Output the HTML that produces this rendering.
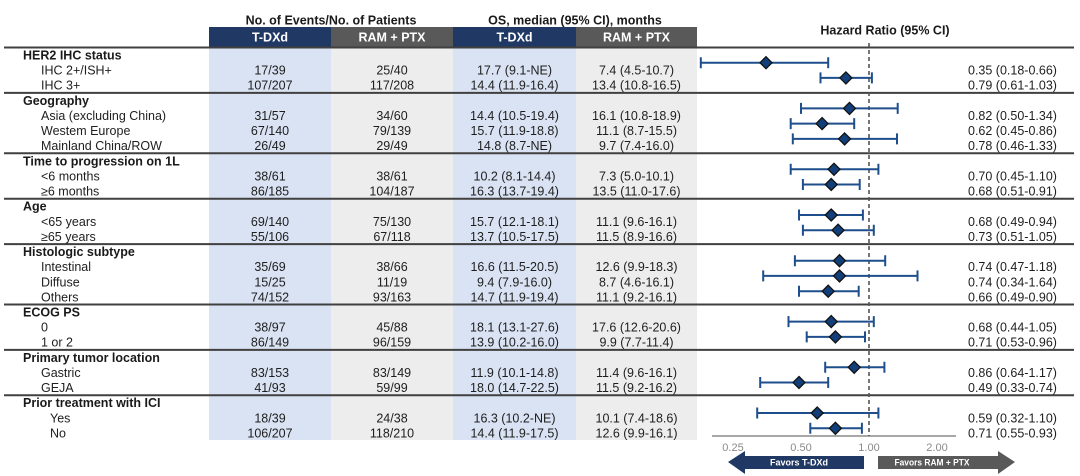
<!DOCTYPE html>
<html><head><meta charset="utf-8"><style>
html,body{margin:0;padding:0;background:#fff;}
svg{display:block;}
text{font-family:"Liberation Sans",Arial,sans-serif;}
.t{font-size:12.5px;fill:#1e1e1e;}
.b{font-size:12.5px;font-weight:bold;fill:#1a1a1a;}
.c{text-anchor:middle;}
.h{font-size:12.5px;font-weight:bold;fill:#fff;text-anchor:middle;}
.ax{font-size:11px;fill:#8a8a8a;text-anchor:middle;}
.ci{stroke:#1f4e8c;stroke-width:2;fill:none;}
.dm{fill:#123f7a;stroke:#111;stroke-width:1.3;}
.ln{stroke:#404040;stroke-width:2;}
</style></head><body>
<svg width="1080" height="476" viewBox="0 0 1080 476" xmlns="http://www.w3.org/2000/svg">
<rect x="209" y="47" width="122" height="393" fill="#dae3f3"/>
<rect x="331" y="47" width="122" height="393" fill="#ededed"/>
<rect x="453" y="47" width="123" height="393" fill="#dae3f3"/>
<rect x="576" y="47" width="121" height="393" fill="#ededed"/>
<rect x="209" y="27" width="122" height="20" fill="#1f3864"/>
<rect x="331" y="27" width="122" height="20" fill="#595959"/>
<rect x="453" y="27" width="123" height="20" fill="#1f3864"/>
<rect x="576" y="27" width="121" height="20" fill="#595959"/>
<text class="b c" x="331" y="24.5">No. of Events/No. of Patients</text>
<text class="b c" x="575" y="24.5">OS, median (95% CI), months</text>
<text class="b c" x="885" y="34.5">Hazard Ratio (95% CI)</text>
<text class="h" x="270" y="41.5">T-DXd</text>
<text class="h" x="392" y="41.5">RAM + PTX</text>
<text class="h" x="514.5" y="41.5">T-DXd</text>
<text class="h" x="636.5" y="41.5">RAM + PTX</text>
<line class="ln" x1="4" x2="1074" y1="47.5" y2="47.5"/>
<line class="ln" x1="4" x2="1074" y1="92.9" y2="92.9"/>
<line class="ln" x1="4" x2="1074" y1="153.3" y2="153.3"/>
<line class="ln" x1="4" x2="1074" y1="198.7" y2="198.7"/>
<line class="ln" x1="4" x2="1074" y1="244.1" y2="244.1"/>
<line class="ln" x1="4" x2="1074" y1="304.5" y2="304.5"/>
<line class="ln" x1="4" x2="1074" y1="349.9" y2="349.9"/>
<line class="ln" x1="4" x2="1074" y1="395.3" y2="395.3"/>
<g>
<text class="b" x="23" y="59.5">HER2 IHC status</text>
<text class="t" x="41" y="74.6">IHC 2+/ISH+</text>
<text class="t" x="41" y="89.7">IHC 3+</text>
<text class="b" x="23" y="104.8">Geography</text>
<text class="t" x="41" y="119.9">Asia (excluding China)</text>
<text class="t" x="41" y="135.1">Westem Europe</text>
<text class="t" x="41" y="150.2">Mainland China/ROW</text>
<text class="b" x="23" y="165.3">Time to progression on 1L</text>
<text class="t" x="41" y="180.4">&lt;6 months</text>
<text class="t" x="41" y="195.5">≥6 months</text>
<text class="b" x="23" y="210.7">Age</text>
<text class="t" x="41" y="225.8">&lt;65 years</text>
<text class="t" x="41" y="240.9">≥65 years</text>
<text class="b" x="23" y="256.0">Histologic subtype</text>
<text class="t" x="41" y="271.1">Intestinal</text>
<text class="t" x="41" y="286.3">Diffuse</text>
<text class="t" x="41" y="301.4">Others</text>
<text class="b" x="23" y="316.5">ECOG PS</text>
<text class="t" x="41" y="331.6">0</text>
<text class="t" x="41" y="346.7">1 or 2</text>
<text class="b" x="23" y="361.9">Primary tumor location</text>
<text class="t" x="41" y="377.0">Gastric</text>
<text class="t" x="41" y="392.1">GEJA</text>
<text class="b" x="23" y="407.2">Prior treatment with ICI</text>
<text class="t" x="50" y="422.3">Yes</text>
<text class="t" x="50" y="437.5">No</text>
</g>
<g>
<text class="t c" x="270" y="74.6">17/39</text>
<text class="t c" x="270" y="89.7">107/207</text>
<text class="t c" x="270" y="119.9">31/57</text>
<text class="t c" x="270" y="135.1">67/140</text>
<text class="t c" x="270" y="150.2">26/49</text>
<text class="t c" x="270" y="180.4">38/61</text>
<text class="t c" x="270" y="195.5">86/185</text>
<text class="t c" x="270" y="225.8">69/140</text>
<text class="t c" x="270" y="240.9">55/106</text>
<text class="t c" x="270" y="271.1">35/69</text>
<text class="t c" x="270" y="286.3">15/25</text>
<text class="t c" x="270" y="301.4">74/152</text>
<text class="t c" x="270" y="331.6">38/97</text>
<text class="t c" x="270" y="346.7">86/149</text>
<text class="t c" x="270" y="377.0">83/153</text>
<text class="t c" x="270" y="392.1">41/93</text>
<text class="t c" x="270" y="422.3">18/39</text>
<text class="t c" x="270" y="437.5">106/207</text>
</g>
<g>
<text class="t c" x="392" y="74.6">25/40</text>
<text class="t c" x="392" y="89.7">117/208</text>
<text class="t c" x="392" y="119.9">34/60</text>
<text class="t c" x="392" y="135.1">79/139</text>
<text class="t c" x="392" y="150.2">29/49</text>
<text class="t c" x="392" y="180.4">38/61</text>
<text class="t c" x="392" y="195.5">104/187</text>
<text class="t c" x="392" y="225.8">75/130</text>
<text class="t c" x="392" y="240.9">67/118</text>
<text class="t c" x="392" y="271.1">38/66</text>
<text class="t c" x="392" y="286.3">11/19</text>
<text class="t c" x="392" y="301.4">93/163</text>
<text class="t c" x="392" y="331.6">45/88</text>
<text class="t c" x="392" y="346.7">96/159</text>
<text class="t c" x="392" y="377.0">83/149</text>
<text class="t c" x="392" y="392.1">59/99</text>
<text class="t c" x="392" y="422.3">24/38</text>
<text class="t c" x="392" y="437.5">118/210</text>
</g>
<g>
<text class="t c" x="514.5" y="74.6">17.7 (9.1-NE)</text>
<text class="t c" x="514.5" y="89.7">14.4 (11.9-16.4)</text>
<text class="t c" x="514.5" y="119.9">14.4 (10.5-19.4)</text>
<text class="t c" x="514.5" y="135.1">15.7 (11.9-18.8)</text>
<text class="t c" x="514.5" y="150.2">14.8 (8.7-NE)</text>
<text class="t c" x="514.5" y="180.4">10.2 (8.1-14.4)</text>
<text class="t c" x="514.5" y="195.5">16.3 (13.7-19.4)</text>
<text class="t c" x="514.5" y="225.8">15.7 (12.1-18.1)</text>
<text class="t c" x="514.5" y="240.9">13.7 (10.5-17.5)</text>
<text class="t c" x="514.5" y="271.1">16.6 (11.5-20.5)</text>
<text class="t c" x="514.5" y="286.3">9.4 (7.9-16.0)</text>
<text class="t c" x="514.5" y="301.4">14.7 (11.9-19.4)</text>
<text class="t c" x="514.5" y="331.6">18.1 (13.1-27.6)</text>
<text class="t c" x="514.5" y="346.7">13.9 (10.2-16.0)</text>
<text class="t c" x="514.5" y="377.0">11.9 (10.1-14.8)</text>
<text class="t c" x="514.5" y="392.1">18.0 (14.7-22.5)</text>
<text class="t c" x="514.5" y="422.3">16.3 (10.2-NE)</text>
<text class="t c" x="514.5" y="437.5">14.4 (11.9-17.5)</text>
</g>
<g>
<text class="t c" x="636.5" y="74.6">7.4 (4.5-10.7)</text>
<text class="t c" x="636.5" y="89.7">13.4 (10.8-16.5)</text>
<text class="t c" x="636.5" y="119.9">16.1 (10.8-18.9)</text>
<text class="t c" x="636.5" y="135.1">11.1 (8.7-15.5)</text>
<text class="t c" x="636.5" y="150.2">9.7 (7.4-16.0)</text>
<text class="t c" x="636.5" y="180.4">7.3 (5.0-10.1)</text>
<text class="t c" x="636.5" y="195.5">13.5 (11.0-17.6)</text>
<text class="t c" x="636.5" y="225.8">11.1 (9.6-16.1)</text>
<text class="t c" x="636.5" y="240.9">11.5 (8.9-16.6)</text>
<text class="t c" x="636.5" y="271.1">12.6 (9.9-18.3)</text>
<text class="t c" x="636.5" y="286.3">8.7 (4.6-16.1)</text>
<text class="t c" x="636.5" y="301.4">11.1 (9.2-16.1)</text>
<text class="t c" x="636.5" y="331.6">17.6 (12.6-20.6)</text>
<text class="t c" x="636.5" y="346.7">9.9 (7.7-11.4)</text>
<text class="t c" x="636.5" y="377.0">11.4 (9.6-16.1)</text>
<text class="t c" x="636.5" y="392.1">11.5 (9.2-16.2)</text>
<text class="t c" x="636.5" y="422.3">10.1 (7.4-18.6)</text>
<text class="t c" x="636.5" y="437.5">12.6 (9.9-16.1)</text>
</g>
<g>
<text class="t" x="968" y="74.6">0.35 (0.18-0.66)</text>
<text class="t" x="968" y="89.7">0.79 (0.61-1.03)</text>
<text class="t" x="968" y="119.9">0.82 (0.50-1.34)</text>
<text class="t" x="968" y="135.1">0.62 (0.45-0.86)</text>
<text class="t" x="968" y="150.2">0.78 (0.46-1.33)</text>
<text class="t" x="968" y="180.4">0.70 (0.45-1.10)</text>
<text class="t" x="968" y="195.5">0.68 (0.51-0.91)</text>
<text class="t" x="968" y="225.8">0.68 (0.49-0.94)</text>
<text class="t" x="968" y="240.9">0.73 (0.51-1.05)</text>
<text class="t" x="968" y="271.1">0.74 (0.47-1.18)</text>
<text class="t" x="968" y="286.3">0.74 (0.34-1.64)</text>
<text class="t" x="968" y="301.4">0.66 (0.49-0.90)</text>
<text class="t" x="968" y="331.6">0.68 (0.44-1.05)</text>
<text class="t" x="968" y="346.7">0.71 (0.53-0.96)</text>
<text class="t" x="968" y="377.0">0.86 (0.64-1.17)</text>
<text class="t" x="968" y="392.1">0.49 (0.33-0.74)</text>
<text class="t" x="968" y="422.3">0.59 (0.32-1.10)</text>
<text class="t" x="968" y="437.5">0.71 (0.55-0.93)</text>
</g>
<line x1="712" x2="956" y1="436" y2="436" stroke="#8a8a8a" stroke-width="1.5"/>
<line x1="869" x2="869" y1="43" y2="436" stroke="#555" stroke-width="1.6" stroke-dasharray="4 3"/>
<text class="ax" x="733" y="451">0.25</text>
<text class="ax" x="801" y="451">0.50</text>
<text class="ax" x="869" y="451">1.00</text>
<text class="ax" x="937" y="451">2.00</text>
<g class="ci">
<path d="M700.8 62.7H828.2M700.8 57.2V68.2M828.2 57.2V68.2"/>
<path d="M820.5 77.9H871.9M820.5 72.4V83.4M871.9 72.4V83.4"/>
<path d="M801 108.4H897.7M801 102.9V113.9M897.7 102.9V113.9"/>
<path d="M790.7 123.6H854.2M790.7 118.1V129.1M854.2 118.1V129.1"/>
<path d="M792.8 138.9H897M792.8 133.4V144.4M897 133.4V144.4"/>
<path d="M790.7 169.3H878.4M790.7 163.8V174.8M878.4 163.8V174.8"/>
<path d="M802.9 184.5H859.7M802.9 179V190M859.7 179V190"/>
<path d="M799 215H862.9M799 209.5V220.5M862.9 209.5V220.5"/>
<path d="M802.9 230.2H873.8M802.9 224.7V235.7M873.8 224.7V235.7"/>
<path d="M794.9 260.7H885.2M794.9 255.2V266.2M885.2 255.2V266.2"/>
<path d="M763.2 275.9H917.5M763.2 270.4V281.4M917.5 270.4V281.4"/>
<path d="M799 291.2H858.7M799 285.7V296.7M858.7 285.7V296.7"/>
<path d="M788.5 321.6H873.8M788.5 316.1V327.1M873.8 316.1V327.1"/>
<path d="M806.7 336.9H865M806.7 331.4V342.4M865 331.4V342.4"/>
<path d="M825.2 367.3H884.4M825.2 361.8V372.8M884.4 361.8V372.8"/>
<path d="M760.2 382.5H828.2M760.2 377V388M828.2 377V388"/>
<path d="M757.2 413H878.4M757.2 407.5V418.5M878.4 407.5V418.5"/>
<path d="M810.3 428.3H861.9M810.3 422.8V433.8M861.9 422.8V433.8"/>
</g>
<g class="dm">
<path d="M766 56.7L772 62.7L766 68.7L760 62.7Z"/>
<path d="M845.9 71.9L851.9 77.9L845.9 83.9L839.9 77.9Z"/>
<path d="M849.5 102.4L855.5 108.4L849.5 114.4L843.5 108.4Z"/>
<path d="M822.1 117.6L828.1 123.6L822.1 129.6L816.1 123.6Z"/>
<path d="M844.6 132.9L850.6 138.9L844.6 144.9L838.6 138.9Z"/>
<path d="M834 163.3L840 169.3L834 175.3L828 169.3Z"/>
<path d="M831.2 178.5L837.2 184.5L831.2 190.5L825.2 184.5Z"/>
<path d="M831.2 209L837.2 215L831.2 221L825.2 215Z"/>
<path d="M838.1 224.2L844.1 230.2L838.1 236.2L832.1 230.2Z"/>
<path d="M839.5 254.7L845.5 260.7L839.5 266.7L833.5 260.7Z"/>
<path d="M839.5 269.9L845.5 275.9L839.5 281.9L833.5 275.9Z"/>
<path d="M828.2 285.2L834.2 291.2L828.2 297.2L822.2 291.2Z"/>
<path d="M831.2 315.6L837.2 321.6L831.2 327.6L825.2 321.6Z"/>
<path d="M835.4 330.9L841.4 336.9L835.4 342.9L829.4 336.9Z"/>
<path d="M854.2 361.3L860.2 367.3L854.2 373.3L848.2 367.3Z"/>
<path d="M799 376.5L805 382.5L799 388.5L793 382.5Z"/>
<path d="M817.2 407L823.2 413L817.2 419L811.2 413Z"/>
<path d="M835.4 422.3L841.4 428.3L835.4 434.3L829.4 428.3Z"/>
</g>
<path d="M728 462L745 451V456H864V469H745V474Z" fill="#1f3864"/>
<path d="M1015 462L998 451V456H878V469H998V474Z" fill="#595959"/>
<text x="799" y="465.5" font-size="9" font-weight="bold" fill="#fff" text-anchor="middle">Favors T-DXd</text>
<text x="932" y="465.5" font-size="9" font-weight="bold" fill="#fff" text-anchor="middle" textLength="75" lengthAdjust="spacingAndGlyphs">Favors RAM + PTX</text>
</svg>
</body></html>
